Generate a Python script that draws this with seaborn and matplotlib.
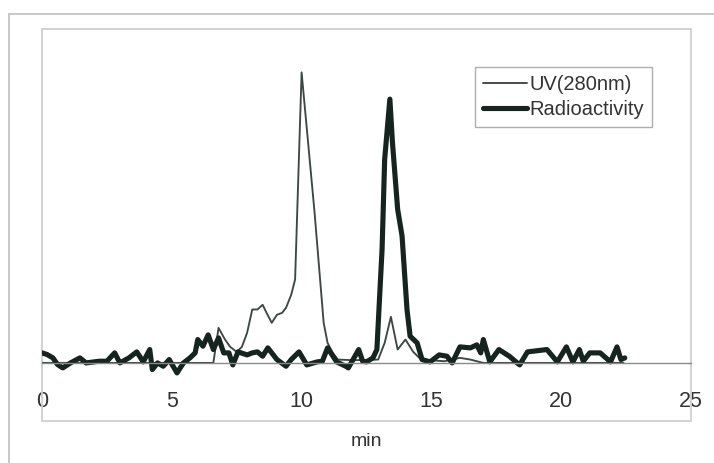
import numpy as np
import pandas as pd
import matplotlib
matplotlib.use("Agg")
import matplotlib.pyplot as plt
from matplotlib.patches import Rectangle
import seaborn as sns

# --- data ---
uv_time = [0.0, 6.6, 6.8, 7.05, 7.25, 7.5, 7.7, 7.9, 8.1, 8.3, 8.5, 8.65, 8.85,
           9.05, 9.25, 9.4, 9.6, 9.75, 10.0, 10.5, 10.85, 11.0, 11.2, 11.4,
           12.0, 12.95, 13.2, 13.44, 13.7, 14.0, 14.3, 14.6, 15.5, 16.1, 16.5,
           17.0, 22.4]
uv_signal = [0, 0, 10.5, 7, 4.8, 3.3, 4.8, 9, 16, 16, 17.4, 15, 12,
             14.4, 15, 16.5, 20.4, 25, 87, 45, 12, 6, 3, 1,
             0.8, 1, 6, 13.8, 4, 7, 3.3, 1, 0.5, 1.5, 1,
             0, 0]

rad_time = [0.0, 0.2, 0.42, 0.6, 0.8, 1.1, 1.46, 1.7, 2.2, 2.5, 2.8, 3.0, 3.35,
            3.65, 3.9, 4.15, 4.25, 4.45, 4.67, 4.9, 5.2, 5.45, 5.7, 5.9, 6.0,
            6.2, 6.4, 6.6, 6.8, 7.0, 7.2, 7.35, 7.55, 7.9, 8.1, 8.3, 8.5, 8.7,
            9.05, 9.4, 9.6, 9.9, 10.2, 10.6, 10.8, 11.0, 11.35, 11.7, 11.8,
            12.2, 12.35, 12.5, 12.75, 12.9, 13.1, 13.2, 13.4, 13.5, 13.7,
            13.87, 14.06, 14.18, 14.45, 14.64, 14.95, 15.3, 15.6, 15.8, 16.1,
            16.5, 16.75, 16.9, 17.0, 17.25, 17.6, 18.0, 18.4, 18.7, 19.45,
            19.85, 20.2, 20.45, 20.7, 20.85, 21.1, 21.5, 21.9, 22.15, 22.3,
            22.45]
rad_signal = [3, 2.5, 1.5, -0.5, -1.5, 0, 1.5, 0, 0.5, 0.5, 3, 0, 1.5,
              3.3, 0.3, 4, -2, 0, -1, 1, -3, 0, 1.5, 3, 7,
              5, 8.4, 4, 7.5, 3, 3, -0.6, 3.3, 2.4, 3, 3.3, 2, 4.5,
              1, -1, 1, 3.3, -0.6, 0.3, 0.5, 4.5, 0.3, -1, -1.5,
              4, 0.5, 0.3, 1.5, 4, 34, 61, 79, 66, 46,
              38, 16, 8, 6, 1, 0.3, 2.4, 2, 0, 4.8,
              4.5, 5.4, 3, 7, 0.3, 4, 2, -0.6, 3.3, 4,
              0.3, 4.8, 0.3, 4, 0.5, 3, 3, 0.3, 4.8, 1,
              1.5]

x_ticks = [0, 5, 10, 15, 20, 25]
series_names = ["UV(280nm)", "Radioactivity"]

df = pd.concat([
    pd.DataFrame({"min": uv_time, "signal": uv_signal, "trace": series_names[0]}),
    pd.DataFrame({"min": rad_time, "signal": rad_signal, "trace": series_names[1]}),
], ignore_index=True)

sns.set_style("white")
plt.rcParams["font.family"] = ["Liberation Sans", "DejaVu Sans"]

fig = plt.figure(figsize=(7.14, 4.63), dpi=100)
ax = fig.add_axes([42 / 714, 1 - 421 / 463, 649 / 714, 392 / 463])

# outer chart-area frame (cropped at right / bottom in the original)
fig.patches.append(Rectangle((9 / 714, -0.1), 1.2, 1 - 14 / 463 + 0.1,
                             transform=fig.transFigure, fill=False,
                             edgecolor="#c4c4c4", linewidth=1.3))

sns.lineplot(data=df, x="min", y="signal", hue="trace", size="trace",
             sizes={series_names[0]: 1.35, series_names[1]: 3.7},
             palette={series_names[0]: "#3d4843", series_names[1]: "#16241f"},
             sort=False, estimator=None, ax=ax)

ax.set_xlim(0, 25)
ax.set_ylim(-17.4, 100)
ax.set_xticks(x_ticks)
ax.set_yticks([])

for s in ["top", "left", "right"]:
    ax.spines[s].set_visible(False)
ax.spines["bottom"].set_position(("data", 0))
ax.spines["bottom"].set_color("#8a8a8a")
ax.spines["bottom"].set_linewidth(1.0)
ax.add_patch(Rectangle((0, 0), 1, 1, transform=ax.transAxes, fill=False,
                       edgecolor="#cfcfcf", linewidth=1.3, clip_on=False))

ax.tick_params(axis="x", length=0, pad=20, labelsize=15.5, labelcolor="#333333")
ax.set_xlabel("min", fontsize=14, color="#333333")
ax.xaxis.set_label_coords(0.5, -0.03)
ax.set_ylabel("")

handles, labels = ax.get_legend_handles_labels()
leg = ax.legend(handles[-2:], series_names, loc="upper left",
                bbox_to_anchor=(0.667, 0.903), borderaxespad=0,
                fontsize=14.5, handlelength=2.2, handletextpad=0.12,
                borderpad=0.4, labelspacing=0.3, frameon=True,
                fancybox=False, edgecolor="#9a9a9a")
leg.get_frame().set_linewidth(1.0)
for t in leg.get_texts():
    t.set_color("#333333")

fig.savefig("out.png", dpi=100)
